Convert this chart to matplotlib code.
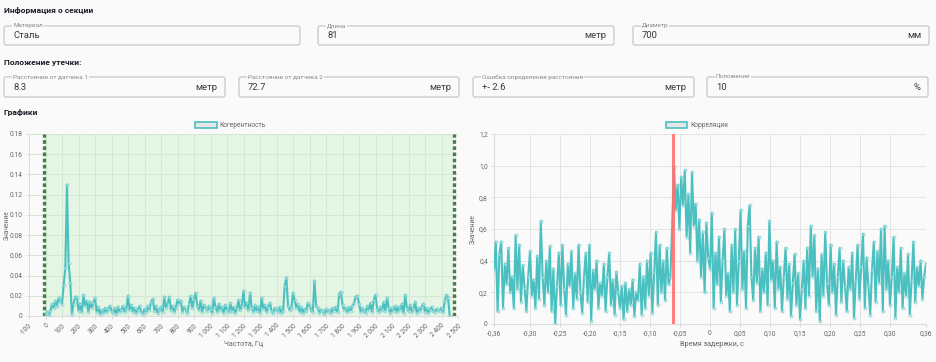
import numpy as np
import matplotlib
matplotlib.use("Agg")
import matplotlib.pyplot as plt
from matplotlib.patches import FancyBboxPatch, Patch

plt.rcParams['font.family'] = ['Roboto', 'DejaVu Sans']

# ---------------- data ----------------
coh_freq_step = 10  # Hz
coherence = [
    0.002, 0.004, 0.001, 0.005, 0.012, 0.008, 0.015, 0.010, 0.018, 0.015,
    0.012, 0.031, 0.047, 0.130, 0.052, 0.033, 0.002, 0.012, 0.019, 0.019,
    0.005, 0.012, 0.004, 0.021, 0.010, 0.015, 0.004, 0.014, 0.008, 0.013,
    0.018, 0.004, 0.009, 0.002, 0.006, 0.003, 0.008, 0.004, 0.007, 0.010,
    0.005, 0.003, 0.008, 0.002, 0.009, 0.004, 0.006, 0.010, 0.004, 0.007,
    0.020, 0.006, 0.011, 0.004, 0.008, 0.003, 0.006, 0.010, 0.004, 0.002,
    0.007, 0.004, 0.010, 0.006, 0.014, 0.017, 0.005, 0.010, 0.003, 0.006,
    0.009, 0.004, 0.019, 0.008, 0.012, 0.019, 0.006, 0.010, 0.004, 0.008,
    0.016, 0.012, 0.015, 0.004, 0.009, 0.006, 0.003, 0.012, 0.020, 0.008,
    0.016, 0.023, 0.010, 0.006, 0.015, 0.004, 0.011, 0.008, 0.005, 0.010,
    0.007, 0.003, 0.018, 0.009, 0.004, 0.012, 0.006, 0.009, 0.003, 0.011,
    0.006, 0.004, 0.013, 0.005, 0.009, 0.003, 0.007, 0.016, 0.006, 0.010,
    0.025, 0.009, 0.013, 0.006, 0.023, 0.008, 0.004, 0.011, 0.005, 0.009,
    0.003, 0.018, 0.007, 0.011, 0.004, 0.009, 0.013, 0.005, 0.003, 0.008,
    0.006, 0.004, 0.009, 0.003, 0.005, 0.030, 0.038, 0.010, 0.006, 0.008,
    0.023, 0.016, 0.008, 0.012, 0.004, 0.009, 0.003, 0.007, 0.005, 0.013,
    0.010, 0.006, 0.004, 0.035, 0.010, 0.008, 0.003, 0.006, 0.005, 0.002,
    0.007, 0.004, 0.006, 0.003, 0.008, 0.005, 0.009, 0.004, 0.022, 0.024,
    0.011, 0.006, 0.008, 0.004, 0.009, 0.005, 0.010, 0.013, 0.019, 0.020,
    0.012, 0.004, 0.008, 0.005, 0.003, 0.010, 0.006, 0.013, 0.004, 0.016,
    0.021, 0.007, 0.004, 0.009, 0.006, 0.014, 0.005, 0.018, 0.008, 0.003,
    0.008, 0.005, 0.010, 0.004, 0.009, 0.006, 0.012, 0.003, 0.021, 0.008,
    0.005, 0.011, 0.004, 0.007, 0.014, 0.003, 0.008, 0.005, 0.009, 0.012,
    0.004, 0.008, 0.003, 0.006, 0.009, 0.005, 0.004, 0.007, 0.006, 0.005,
    0.008, 0.004, 0.015, 0.021, 0.018, 0.000,
]
coh_band = [-12, 2475]          # dotted band limits, Hz
coh_xticks = list(range(-100, 2501, 100))
coh_yticks = [0, 0.02, 0.04, 0.06, 0.08, 0.10, 0.12, 0.14, 0.16, 0.18]
coh_ylabels = ["0", "0.02", "0.04", "0.06", "0.08", "0.10", "0.12", "0.14", "0.16", "0.18"]

correlation = [
    0.34, 0.52, 0.08, 0.44, 0.52, 0.10, 0.38, 0.25, 0.48, 0.20,
    0.30, 0.10, 0.56, 0.22, 0.50, 0.14, 0.37, 0.23, 0.08, 0.30,
    0.46, 0.18, 0.28, 0.10, 0.43, 0.16, 0.65, 0.30, 0.12, 0.40,
    0.20, 0.49, 0.08, 0.35, 0.00, 0.24, 0.45, 0.12, 0.50, 0.22,
    0.06, 0.38, 0.24, 0.46, 0.10, 0.32, 0.16, 0.50, 0.20, 0.07,
    0.30, 0.45, 0.14, 0.50, 0.02, 0.34, 0.22, 0.40, 0.10, 0.26,
    0.18, 0.38, 0.08, 0.30, 0.45, 0.12, 0.28, 0.06, 0.33, 0.20,
    0.10, 0.24, 0.03, 0.26, 0.08, 0.22, 0.12, 0.28, 0.05, 0.20,
    0.15, 0.38, 0.06, 0.30, 0.10, 0.40, 0.18, 0.45, 0.07, 0.33,
    0.58, 0.12, 0.50, 0.20, 0.40, 0.15, 0.48, 0.25, 0.30, 0.63,
    0.99, 0.72, 0.88, 0.60, 0.93, 0.75, 0.97, 0.55, 0.82, 0.45,
    0.96, 0.62, 0.76, 0.40, 0.66, 0.30, 0.58, 0.20, 0.64, 0.42,
    0.35, 0.70, 0.10, 0.45, 0.25, 0.55, 0.14, 0.40, 0.60, 0.18,
    0.32, 0.08, 0.50, 0.20, 0.60, 0.12, 0.40, 0.72, 0.22, 0.46,
    0.10, 0.62, 0.75, 0.30, 0.15, 0.48, 0.26, 0.55, 0.08, 0.35,
    0.20, 0.45, 0.12, 0.65, 0.28, 0.40, 0.10, 0.52, 0.22, 0.36,
    0.08, 0.30, 0.48, 0.16, 0.38, 0.05, 0.26, 0.44, 0.12, 0.32,
    0.03, 0.22, 0.40, 0.10, 0.48, 0.18, 0.62, 0.30, 0.56, 0.08,
    0.35, 0.02, 0.44, 0.18, 0.58, 0.26, 0.12, 0.50, 0.20, 0.38,
    0.06, 0.30, 0.48, 0.14, 0.40, 0.24, 0.08, 0.36, 0.22, 0.45,
    0.04, 0.28, 0.50, 0.16, 0.36, 0.57, 0.10, 0.42, 0.24, 0.06,
    0.34, 0.52, 0.14, 0.46, 0.26, 0.60, 0.08, 0.62, 0.22, 0.40,
    0.12, 0.30, 0.55, 0.04, 0.36, 0.20, 0.48, 0.10, 0.32, 0.18,
    0.44, 0.06, 0.28, 0.52, 0.14, 0.36, 0.24, 0.40, 0.16, 0.30, 0.38,
]
corr_range = [-0.36, 0.36]
corr_peak = -0.0625
corr_xticks = [-0.36, -0.30, -0.25, -0.20, -0.15, -0.10, -0.05, 0, 0.05, 0.10, 0.15, 0.20, 0.25, 0.30, 0.36]
corr_xlabels = ["-0,36", "-0,30", "-0,25", "-0,20", "-0,15", "-0,10", "-0,05", "0", "0,05", "0,10",
                "0,15", "0,20", "0,25", "0,30", "0,36"]
corr_yticks = [0, 0.2, 0.4, 0.6, 0.8, 1.0, 1.2]
corr_ylabels = ["0", "0,2", "0,4", "0,6", "0,8", "1,0", "1,2"]

fields_row1 = [("Материал", "Сталь", ""), ("Длина", "81", "метр"), ("Диаметр", "700", "мм")]
fields_row2 = [("Расстояние от датчика 1", "8.3", "метр"), ("Расстояние от датчика 2", "72.7", "метр"),
               ("Ошибка определения расстояния", "+- 2.6", "метр"), ("Положение", "10", "%")]

# ---------------- figure ----------------
W, H = 936, 362
BG = "#fafafa"
TEAL = "#4bc0c0"
fig = plt.figure(figsize=(W / 100, H / 100), dpi=100, facecolor=BG)

ui = fig.add_axes([0, 0, 1, 1])
ui.set_xlim(0, W)
ui.set_ylim(H, 0)
ui.axis("off")
ui.set_zorder(0)

def heading(x, y, s):
    ui.text(x, y, s, fontsize=6, fontweight="bold", color="#1c1c28", va="center", ha="left")

def field(x0, x1, y0, y1, label, value, unit):
    box = FancyBboxPatch((x0, y0), x1 - x0, y1 - y0, boxstyle="round,pad=0,rounding_size=2",
                         facecolor=BG, edgecolor="#c2c2c2", lw=0.8)
    ui.add_patch(box)
    ui.text(x0 + 9, y0, label, fontsize=4.6, color="#8a8a8a", va="center", ha="left",
            bbox=dict(facecolor=BG, edgecolor="none", pad=0.6))
    ui.text(x0 + 9, (y0 + y1) / 2 + 0.5, value, fontsize=6.8, color="#3a3a3a", va="center", ha="left")
    if unit:
        ui.text(x1 - 8, (y0 + y1) / 2 + 0.5, unit, fontsize=6.8, color="#3a3a3a", va="center", ha="right")

heading(4, 10, "Информация о секции")
row1_x = [(4, 300), (318, 614), (633, 929)]
for (x0, x1), (lab, val, unit) in zip(row1_x, fields_row1):
    field(x0, x1, 26, 45, lab, val, unit)

heading(4, 62, "Положение утечки:")
row2_x = [(4, 225), (239, 459), (473, 694), (707, 928)]
for (x0, x1), (lab, val, unit) in zip(row2_x, fields_row2):
    field(x0, x1, 77, 97, lab, val, unit)

heading(4, 112, "Графики")

# axis titles in pixel coordinates
ui.text(7, 225, "Значение", fontsize=4.8, color="#666666", rotation=90, va="center", ha="center")
ui.text(244, 344, "Частота, Гц", fontsize=5.2, color="#666666", va="center", ha="center")
ui.text(473, 229, "Значение", fontsize=4.8, color="#666666", rotation=90, va="center", ha="center")
ui.text(712, 344, "Время задержки, с", fontsize=5.2, color="#666666", va="center", ha="center")

GRID = "#e4e4e4"
TICKC = "#666666"

def style_axes(ax):
    ax.set_facecolor(BG)
    for s in ax.spines.values():
        s.set_color("#dcdcdc")
        s.set_linewidth(0.8)
    ax.spines["top"].set_visible(False)
    ax.spines["right"].set_visible(False)
    ax.grid(True, color=GRID, lw=0.7)
    ax.set_axisbelow(True)
    ax.tick_params(colors="#dcdcdc", labelcolor=TICKC, labelsize=4.8, length=2.5, width=0.7, pad=2)

LINE_KW = dict(color=TEAL, lw=1.5, marker="o", ms=2.2,
               mfc=(0.78, 0.92, 0.92, 0.6), mec=(0.29, 0.75, 0.75, 0.6), mew=0.5, zorder=3)

# ---------------- left chart: coherence ----------------
axL = fig.add_axes([29 / W, 1 - 316 / H, (458 - 29) / W, (316 - 134) / H])
style_axes(axL)
freq = np.arange(len(coherence)) * coh_freq_step
axL.axvspan(coh_band[0], coh_band[1], color="#e4f5e4", zorder=0, lw=0)
for xb in coh_band:
    axL.axvline(xb, color="#4a7d4a", lw=2.4, ls=(0, (1.1, 0.75)), zorder=1)
axL.plot(freq, coherence, **LINE_KW)
axL.set_xlim(-100, 2500)
axL.set_ylim(0, 0.18)
axL.set_xticks(coh_xticks)
axL.set_xticklabels([f"{v:,}".replace(",", " ") for v in coh_xticks], rotation=45,
                    ha="right", rotation_mode="anchor")
axL.set_yticks(coh_yticks)
axL.set_yticklabels(coh_ylabels)
axL.grid(True, color="#d6e6d6", lw=0.7)
legL = axL.legend(handles=[Patch(facecolor="#e6e6e6", edgecolor=TEAL, lw=1.2, label="Когерентность")],
                  loc="lower center", bbox_to_anchor=(0.47, 1.0), frameon=False, fontsize=4.8,
                  handlelength=3.2, handleheight=1.0, borderaxespad=0.3, handletextpad=0.5)
for t in legL.get_texts():
    t.set_color("#666666")

# ---------------- right chart: correlation ----------------
axR = fig.add_axes([494 / W, 1 - 324 / H, (926 - 494) / W, (324 - 134) / H])
style_axes(axR)
delay = np.linspace(corr_range[0], corr_range[1], len(correlation))
axR.plot(delay, correlation, **LINE_KW)
axR.axvline(corr_peak, color="#ff6f6f", lw=2.2, alpha=0.9, zorder=4)
axR.set_xlim(corr_range)
axR.set_ylim(0, 1.2)
axR.set_xticks(corr_xticks)
axR.set_xticklabels(corr_xlabels)
axR.set_yticks(corr_yticks)
axR.set_yticklabels(corr_ylabels)
legR = axR.legend(handles=[Patch(facecolor="#e6e6e6", edgecolor=TEAL, lw=1.2, label="Корреляция")],
                  loc="lower center", bbox_to_anchor=(0.47, 1.0), frameon=False, fontsize=4.8,
                  handlelength=3.2, handleheight=1.0, borderaxespad=0.3, handletextpad=0.5)
for t in legR.get_texts():
    t.set_color("#666666")

fig.savefig("out.png", dpi=100, facecolor=BG)
